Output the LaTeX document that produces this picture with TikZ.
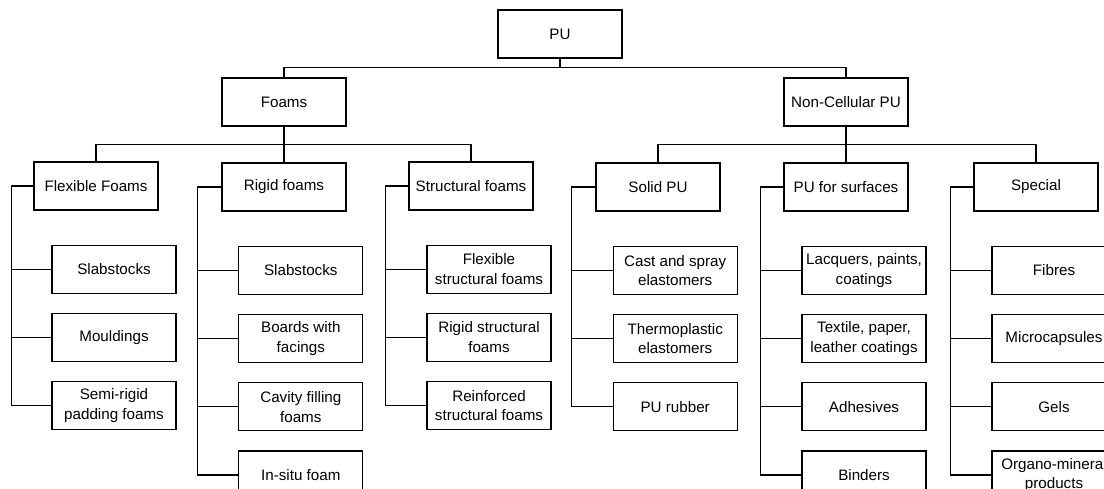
\documentclass[tikz,border=0pt]{standalone}
\usepackage{fontspec}
\setmainfont{Liberation Sans}
\usetikzlibrary{positioning}

\begin{document}
\begin{tikzpicture}[
        x=0.025cm, y=0.025cm,
        node distance=0.475cm,
        every node/.style={font=\fontsize{10.8}{14}\selectfont},
        cat/.style={rectangle, draw, line width=0.8pt, minimum width=3.1cm,
            minimum height=1.2cm, inner sep=1pt, align=center},
        leaf/.style={cat},
        link/.style={line width=0.8pt}
    ]
    \useasboundingbox (0,0) rectangle (1104,-488);
    \clip (0,0) rectangle (1104,-488);
    % top levels
    \node (pu)      [cat] at (560,-34)  {PU};
    \node (foams)   [cat] at (284,-102) {Foams};
    \node (noncell) [cat] at (846,-102) {Non-Cellular PU};
    \node (flex)    [cat] at (96,-186)   {Flexible Foams};
    \node (rigid)   [cat] at (284,-187)  {Rigid foams};
    \node (struct)  [cat] at (471,-186)  {Structural foams};
    \node (solid)   [cat] at (658,-187)  {Solid PU};
    \node (surf)    [cat] at (846,-187)  {PU for surfaces};
    \node (special) [cat] at (1036,-187) {Special};
    % leaves
    \node (flex1) [leaf, anchor=north west] at ([xshift=0.45cm,yshift=-0.85cm]flex.south west) {Slabstocks};
    \node (flex2) [leaf, below=of flex1] {Mouldings};
    \node (flex3) [leaf, below=of flex2] {Semi-rigid\\padding foams};
    \node (rigid1) [leaf, anchor=north west] at ([xshift=0.42cm,yshift=-0.86cm]rigid.south west) {Slabstocks};
    \node (rigid2) [leaf, below=of rigid1] {Boards with\\facings};
    \node (rigid3) [leaf, below=of rigid2] {Cavity filling\\foams};
    \node (rigid4) [leaf, below=of rigid3] {In-situ foam};
    \node (struct1) [leaf, anchor=north west] at ([xshift=0.45cm,yshift=-0.85cm]struct.south west) {Flexible\\structural foams};
    \node (struct2) [leaf, below=of struct1] {Rigid structural\\foams};
    \node (struct3) [leaf, below=of struct2] {Reinforced\\structural foams};
    \node (solid1) [leaf, anchor=north west] at ([xshift=0.43cm,yshift=-0.86cm]solid.south west) {Cast and spray\\elastomers};
    \node (solid2) [leaf, below=of solid1] {Thermoplastic\\elastomers};
    \node (solid3) [leaf, below=of solid2] {PU rubber};
    \node (surf1) [leaf, anchor=north west] at ([xshift=0.45cm,yshift=-0.86cm]surf.south west) {Lacquers, paints,\\coatings};
    \node (surf2) [leaf, below=of surf1] {Textile, paper,\\leather coatings};
    \node (surf3) [leaf, below=of surf2] {Adhesives};
    \node (surf4) [leaf, below=of surf3] {Binders};
    \node (special1) [leaf, anchor=north west] at ([xshift=0.45cm,yshift=-0.86cm]special.south west) {Fibres};
    \node (special2) [leaf, below=of special1] {Microcapsules};
    \node (special3) [leaf, below=of special2] {Gels};
    \node (special4) [leaf, below=of special3] {Organo-mineral\\products};
    % tree links
    \draw [link] (pu.south) -- ++(0,-0.225cm) -| (foams.north);
    \draw [link] (pu.south) -- ++(0,-0.225cm) -| (noncell.north);
    \draw [link] (foams.south) -- ++(0,-0.45cm) -| (flex.north);
    \draw [link] (foams.south) -- ++(0,-0.45cm) -| (rigid.north);
    \draw [link] (foams.south) -- ++(0,-0.45cm) -| (struct.north);
    \draw [link] (noncell.south) -- ++(0,-0.45cm) -| (solid.north);
    \draw [link] (noncell.south) -- ++(0,-0.45cm) -| (surf.north);
    \draw [link] (noncell.south) -- ++(0,-0.45cm) -| (special.north);
    \draw [link] (flex.west) -- ++(-0.55cm,0) |- (flex1.west);
    \draw [link] (flex.west) -- ++(-0.55cm,0) |- (flex2.west);
    \draw [link] (flex.west) -- ++(-0.55cm,0) |- (flex3.west);
    \draw [link] (rigid.west) -- ++(-0.6cm,0) |- (rigid1.west);
    \draw [link] (rigid.west) -- ++(-0.6cm,0) |- (rigid2.west);
    \draw [link] (rigid.west) -- ++(-0.6cm,0) |- (rigid3.west);
    \draw [link] (rigid.west) -- ++(-0.6cm,0) |- (rigid4.west);
    \draw [link] (struct.west) -- ++(-0.575cm,0) |- (struct1.west);
    \draw [link] (struct.west) -- ++(-0.575cm,0) |- (struct2.west);
    \draw [link] (struct.west) -- ++(-0.575cm,0) |- (struct3.west);
    \draw [link] (solid.west) -- ++(-0.6cm,0) |- (solid1.west);
    \draw [link] (solid.west) -- ++(-0.6cm,0) |- (solid2.west);
    \draw [link] (solid.west) -- ++(-0.6cm,0) |- (solid3.west);
    \draw [link] (surf.west) -- ++(-0.575cm,0) |- (surf1.west);
    \draw [link] (surf.west) -- ++(-0.575cm,0) |- (surf2.west);
    \draw [link] (surf.west) -- ++(-0.575cm,0) |- (surf3.west);
    \draw [link] (surf.west) -- ++(-0.575cm,0) |- (surf4.west);
    \draw [link] (special.west) -- ++(-0.575cm,0) |- (special1.west);
    \draw [link] (special.west) -- ++(-0.575cm,0) |- (special2.west);
    \draw [link] (special.west) -- ++(-0.575cm,0) |- (special3.west);
    \draw [link] (special.west) -- ++(-0.575cm,0) |- (special4.west);
    \end{tikzpicture}
\end{document}
